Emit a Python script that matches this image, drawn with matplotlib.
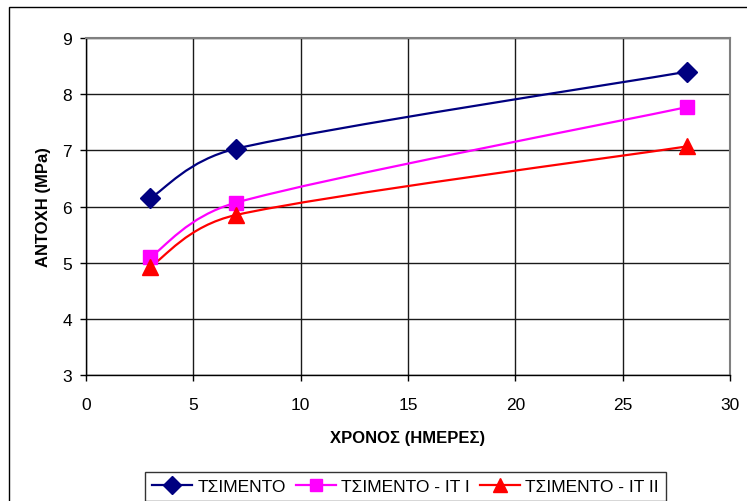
import numpy as np
import matplotlib
matplotlib.use('Agg')
import matplotlib.pyplot as plt
from matplotlib.path import Path
from matplotlib.patches import PathPatch, Rectangle
from matplotlib.lines import Line2D

plt.rcParams['font.family'] = ['Liberation Sans', 'DejaVu Sans']

# ── Data ──────────────────────────────────────────────────────────────
days = [3, 7, 28]
cement = [6.15, 7.03, 8.40]
cement_it1 = [5.10, 6.07, 7.77]
cement_it2 = [4.93, 5.85, 7.07]

labels = ['ΤΣΙΜΕΝΤΟ', 'ΤΣΙΜΕΝΤΟ - ΙΤ Ι', 'ΤΣΙΜΕΝΤΟ - ΙΤ ΙΙ']
colors = ['#000080', '#FF00FF', '#FF0000']
markers = ['D', 's', '^']
msizes = [10, 10, 11]


def smooth_path(ax, x, y, cap=0.5):
    """Bezier-smoothed curve through the points (pixel space).
    Arms follow Catmull-Rom, but are capped to a share of the segment."""
    pts = ax.transData.transform(np.column_stack([x, y]).astype(float))
    n = len(pts)
    tang, arm = [], []
    for i in range(n):
        d = pts[min(i + 1, n - 1)] - pts[max(i - 1, 0)]
        tang.append(d / np.hypot(*d))
        arm.append(np.hypot(*d) / 6.0)
    verts = [pts[0]]
    codes = [Path.MOVETO]
    for i in range(n - 1):
        L = np.hypot(*(pts[i + 1] - pts[i]))
        c1 = pts[i] + tang[i] * min(arm[i], cap * L)
        c2 = pts[i + 1] - tang[i + 1] * min(arm[i + 1], cap * L)
        verts += [c1, c2, pts[i + 1]]
        codes += [Path.CURVE4] * 3
    inv = ax.transData.inverted()
    return Path(inv.transform(np.array(verts)), codes)


fig = plt.figure(figsize=(7.47, 5.02), dpi=100)
ax = fig.add_axes([86 / 747, 1 - 376 / 502, 644 / 747, 337 / 502])
ax.set_xlim(0, 30)
ax.set_ylim(3, 9)

for yv, c, m, ms in zip([cement, cement_it1, cement_it2], colors, markers, msizes):
    ax.add_patch(PathPatch(smooth_path(ax, days, yv), facecolor='none',
                           edgecolor=c, linewidth=1.6, zorder=3))
    ax.plot(days, yv, linestyle='none', marker=m, markersize=ms,
            color=c, markeredgecolor=c, zorder=4, clip_on=False)

ax.set_xticks(range(0, 31, 5))
ax.set_yticks(range(3, 10))
ax.grid(True, color='#1a1a1a', linewidth=1.0)
ax.set_axisbelow(True)
ax.tick_params(direction='out', length=4, width=1, labelsize=12.5,
               colors='black')
ax.tick_params(axis='x', pad=12)
ax.tick_params(axis='y', pad=6)

for side in ['left', 'bottom']:
    ax.spines[side].set_color('black')
    ax.spines[side].set_linewidth(1.0)
for side in ['top', 'right']:
    ax.spines[side].set_color('#808080')
    ax.spines[side].set_linewidth(1.5)

ax.set_xlabel('ΧΡΟΝΟΣ (ΗΜΕΡΕΣ)', fontsize=12, fontweight='bold', labelpad=13)
ax.set_ylabel('ΑΝΤΟΧΗ (ΜPa)', fontsize=12, fontweight='bold', labelpad=8)

# Outer chart frame
fig.patches.append(Rectangle((9 / 747, -0.2), 1.2, 1.2 - 8 / 502,
                             transform=fig.transFigure, fill=False,
                             edgecolor='black', linewidth=1.0))

handles = [Line2D([0], [0], color=c, marker=m, markersize=ms - 1,
                  linewidth=1.6, markeredgecolor=c)
           for c, m, ms in zip(colors, markers, msizes)]
leg = fig.legend(handles, labels, loc='upper center', ncol=3,
                 bbox_to_anchor=(405.5 / 747, 1 - 464 / 502), fontsize=12.5,
                 frameon=True, fancybox=False, edgecolor='black',
                 handlelength=2.3, handletextpad=0.3, columnspacing=0.6,
                 borderpad=0.4)
leg.get_frame().set_linewidth(1.0)

fig.savefig('out.png', dpi=100, facecolor='white')
